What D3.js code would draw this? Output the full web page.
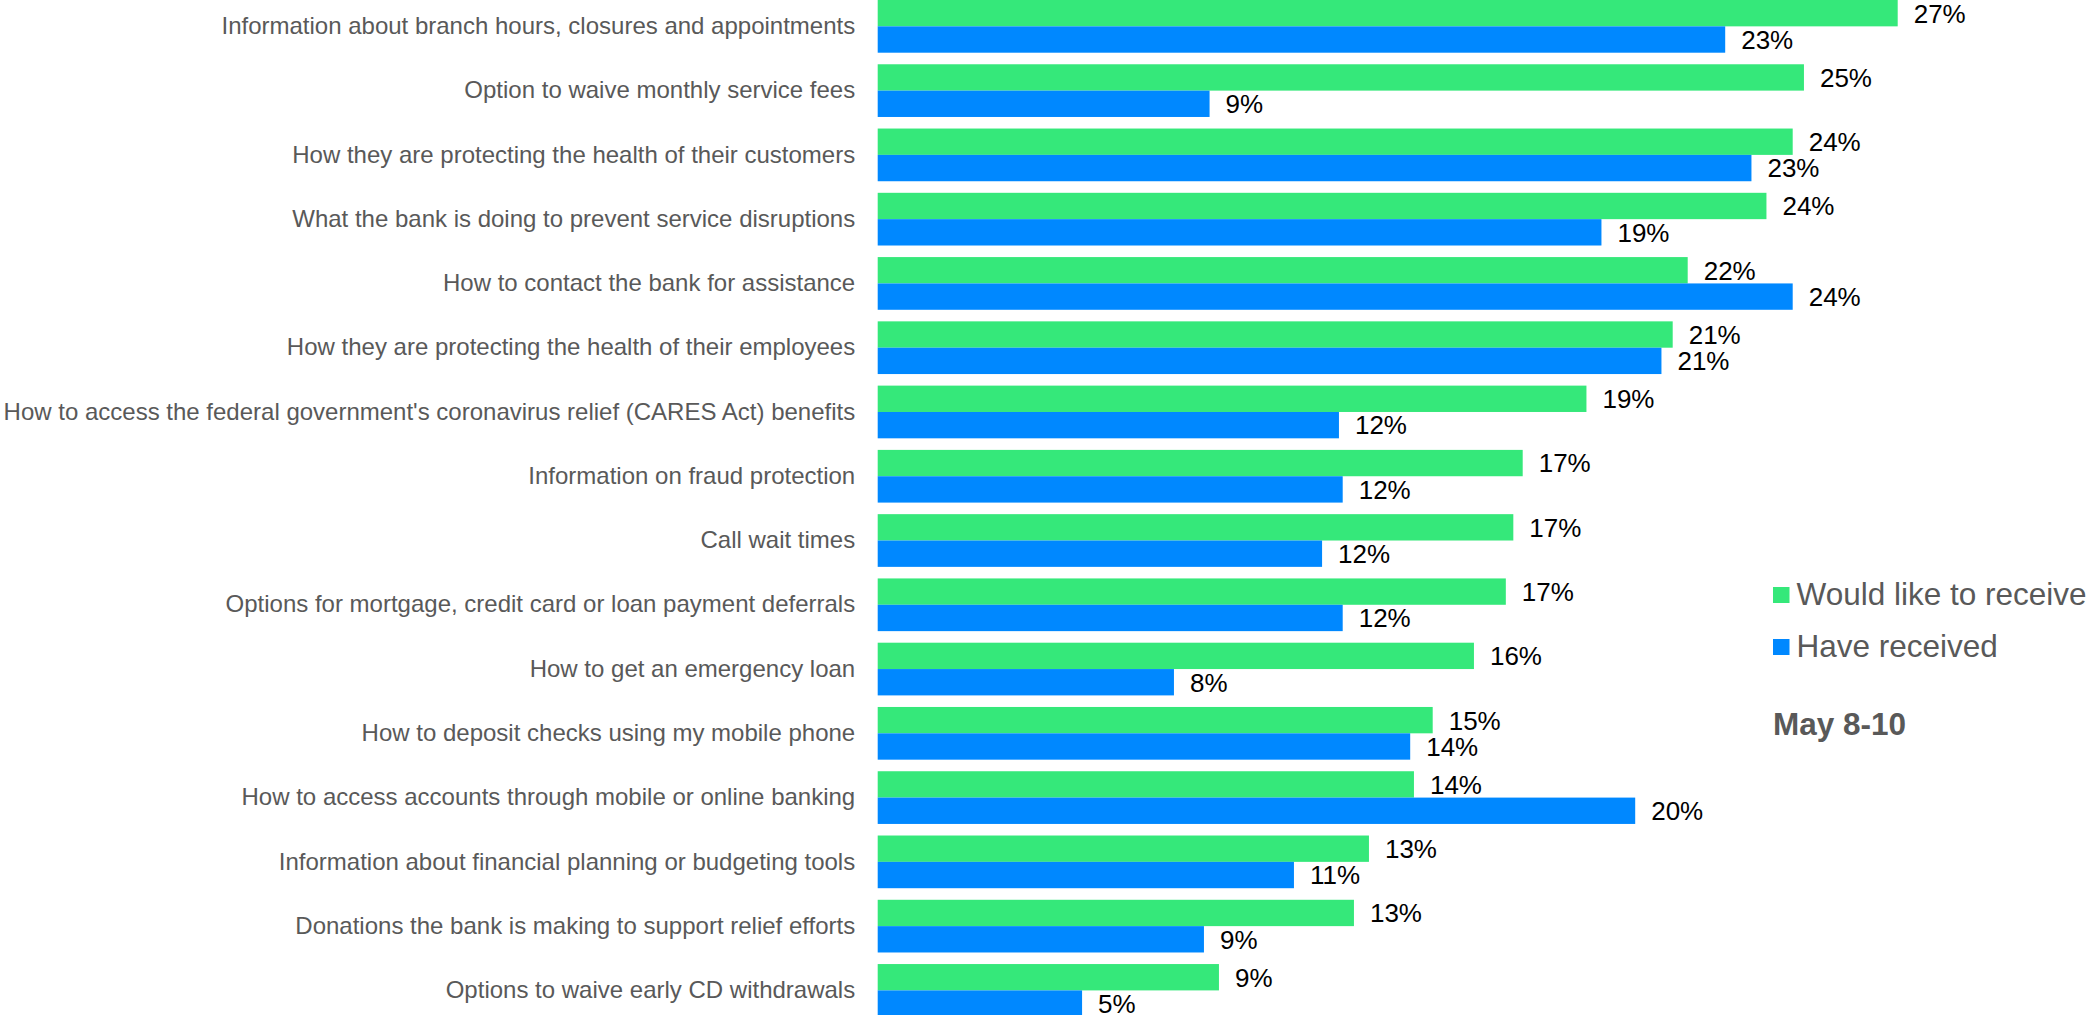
<!DOCTYPE html>
<html>
<head>
<meta charset="utf-8">
<script src="https://cdn.jsdelivr.net/npm/d3@7"></script>
<style>
  html, body { margin: 0; padding: 0; background: #ffffff; }
  svg { display: block; }
</style>
</head>
<body>
<svg id="chart" width="2091" height="1015"></svg>
<script>
const categories = [
  "Information about branch hours, closures and appointments",
  "Option to waive monthly service fees",
  "How they are protecting the health of their customers",
  "What the bank is doing to prevent service disruptions",
  "How to contact the bank for assistance",
  "How they are protecting the health of their employees",
  "How to access the federal government's coronavirus relief (CARES Act) benefits",
  "Information on fraud protection",
  "Call wait times",
  "Options for mortgage, credit card or loan payment deferrals",
  "How to get an emergency loan",
  "How to deposit checks using my mobile phone",
  "How to access accounts through mobile or online banking",
  "Information about financial planning or budgeting tools",
  "Donations the bank is making to support relief efforts",
  "Options to waive early CD withdrawals"
];
const seriesNames = ["Would like to receive", "Have received"];
const wouldLike = [27.2, 24.7, 24.4, 23.7, 21.6, 21.2, 18.9, 17.2, 16.95, 16.75, 15.9, 14.8, 14.3, 13.1, 12.7, 9.1];
const haveReceived = [22.6, 8.85, 23.3, 19.3, 24.4, 20.9, 12.3, 12.4, 11.85, 12.4, 7.9, 14.2, 20.2, 11.1, 8.7, 5.45];
const seriesColors = ["#35e87a", "#0088ff"];
const periodLabel = "May 8-10";

const FONT = "'Liberation Sans', Arial, Helvetica, sans-serif";
const svg = d3.select("#chart");

const step = 64.27;
const x = d3.scaleLinear().domain([0, 30]).range([877.7, 877.7 + 30 * 37.5]);
const y = d3.scaleBand()
  .domain(categories)
  .range([-0.09 * step, -0.09 * step + categories.length * step])
  .paddingInner(0.18)
  .paddingOuter(0.09);
const y1 = d3.scaleBand().domain(seriesNames).range([0, y.bandwidth()]);
const color = d3.scaleOrdinal().domain(seriesNames).range(seriesColors);

const rows = categories.map((c, i) => ({
  category: c,
  values: [
    { series: seriesNames[0], value: wouldLike[i] },
    { series: seriesNames[1], value: haveReceived[i] }
  ]
}));

// category axis
const axis = svg.append("g")
  .attr("transform", `translate(${x(0)},0)`)
  .call(d3.axisLeft(y).tickSize(0).tickPadding(22.5));
axis.select(".domain").remove();
axis.selectAll("text")
  .attr("font-family", FONT)
  .attr("font-size", 24)
  .attr("fill", "#595959");

const groups = svg.append("g").selectAll("g")
  .data(rows)
  .join("g")
  .attr("transform", d => `translate(0,${y(d.category)})`);

groups.selectAll("rect")
  .data(d => d.values)
  .join("rect")
  .attr("x", x(0))
  .attr("y", d => y1(d.series))
  .attr("width", d => x(d.value) - x(0))
  .attr("height", y1.bandwidth())
  .attr("fill", d => color(d.series));

groups.selectAll("text")
  .data(d => d.values)
  .join("text")
  .attr("x", d => x(d.value) + 16)
  .attr("y", d => y1(d.series) + y1.bandwidth() / 2)
  .attr("dy", "0.36em")
  .attr("font-family", FONT)
  .attr("font-size", 26)
  .attr("fill", "#000000")
  .text(d => Math.round(d.value) + "%");

// legend
const legend = svg.append("g").attr("transform", "translate(1773,587)");
const li = legend.selectAll("g")
  .data(seriesNames)
  .join("g")
  .attr("transform", (d, i) => `translate(0,${i * 52})`);
li.append("rect")
  .attr("width", 16.5)
  .attr("height", 16)
  .attr("fill", d => color(d));
li.append("text")
  .attr("x", 23.5)
  .attr("y", 18)
  .attr("font-family", FONT)
  .attr("font-size", 31.5)
  .attr("fill", "#595959")
  .text(d => d);

svg.append("text")
  .attr("x", 1773)
  .attr("y", 735)
  .attr("font-family", FONT)
  .attr("font-size", 31.5)
  .attr("font-weight", "bold")
  .attr("fill", "#595959")
  .text(periodLabel);
</script>
</body>
</html>
